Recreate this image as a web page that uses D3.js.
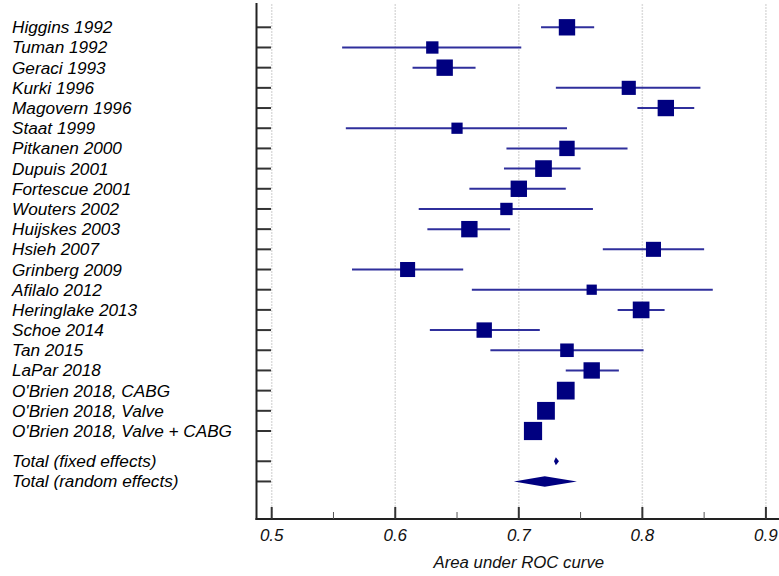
<!DOCTYPE html>
<html><head><meta charset="utf-8">
<script src="https://cdn.jsdelivr.net/npm/d3@7/dist/d3.min.js"></script>
<style>body{margin:0;background:#fff}svg{display:block}</style>
</head><body><svg id="c" width="779" height="576"></svg>
<script>
const studies = ["Higgins 1992","Tuman 1992","Geraci 1993","Kurki 1996","Magovern 1996","Staat 1999","Pitkanen 2000","Dupuis 2001","Fortescue 2001","Wouters 2002","Huijskes 2003","Hsieh 2007","Grinberg 2009","Afilalo 2012","Heringlake 2013","Schoe 2014","Tan 2015","LaPar 2018","O'Brien 2018, CABG","O'Brien 2018, Valve","O'Brien 2018, Valve + CABG"];
const auc   = [0.739,0.630,0.640,0.789,0.819,0.650,0.739,0.720,0.700,0.690,0.660,0.809,0.610,0.759,0.799,0.672,0.739,0.759,0.738,0.722,0.7115];
const lower = [0.718,0.557,0.614,0.730,0.796,0.560,0.690,0.688,0.660,0.619,0.626,0.768,0.565,0.662,0.780,0.628,0.677,0.738,0.733,0.717,0.706];
const upper = [0.761,0.702,0.665,0.847,0.842,0.739,0.788,0.750,0.738,0.760,0.693,0.850,0.655,0.857,0.818,0.717,0.801,0.781,0.743,0.727,0.717];
const weight= [5.1,2.9,5.1,3.8,5.1,2.4,4.5,5.3,5.1,2.9,5.1,4.3,4.3,2.0,5.3,4.5,3.5,5.1,6.0,6.0,6.3];
const totals = ["Total (fixed effects)","Total (random effects)"];
const totalEst = [0.730,0.721];
const totalLo  = [0.7285,0.696];
const totalHi  = [0.7325,0.747];
const xTicks = [0.5,0.6,0.7,0.8,0.9];
const xMinor = [0.55,0.65,0.75,0.85];

(function(){
const svg = d3.select("#c");
const navy = "#000080", ciCol = "#2f2f9c";
const x = d3.scaleLinear().domain([0.5,0.9]).range([271.7,765.9]);
const y = d3.scaleLinear().domain([0,20]).range([27.3,431]);
const sz = d3.scaleSqrt().domain([0,6.3]).range([0,18.2]);
const axX = 256.5, yTop = 3, yBot = 519;
const font = "'Liberation Sans', Arial, sans-serif";

svg.append("g").selectAll("line").data(xTicks).join("line")
  .attr("x1",d=>x(d)).attr("x2",d=>x(d)).attr("y1",yTop+1).attr("y2",yBot)
  .attr("stroke","#dcdcdc").attr("stroke-width",1.5).attr("stroke-dasharray","2,1");

const rowPos = studies.map((d,i)=>i).concat([21.5,22.5]);
const labels = studies.concat(totals);

svg.append("g").selectAll("text").data(labels).join("text")
  .attr("x",12).attr("y",(d,i)=>y(rowPos[i])+6)
  .attr("font-family",font).attr("font-style","italic").attr("font-size",17.2)
  .attr("fill","#000").text(d=>d);

svg.append("g").selectAll("line").data(rowPos).join("line")
  .attr("x1",axX).attr("x2",axX+14.5).attr("y1",d=>y(d)).attr("y2",d=>y(d))
  .attr("stroke","#333").attr("stroke-width",2);

svg.append("g").selectAll("line").data(studies).join("line")
  .attr("x1",(d,i)=>x(lower[i])).attr("x2",(d,i)=>x(upper[i]))
  .attr("y1",(d,i)=>y(i)).attr("y2",(d,i)=>y(i))
  .attr("stroke",ciCol).attr("stroke-width",2);

svg.append("g").selectAll("rect").data(studies).join("rect")
  .attr("x",(d,i)=>x(auc[i])-sz(weight[i])/2).attr("y",(d,i)=>y(i)-sz(weight[i])/2)
  .attr("width",(d,i)=>sz(weight[i])).attr("height",(d,i)=>sz(weight[i]))
  .attr("fill",navy);

const dh = [4,5.3];
svg.append("g").selectAll("path").data(totals).join("path")
  .attr("d",(d,i)=>{const yy=y(rowPos[21+i]);
    return `M${x(totalLo[i])},${yy}L${x(totalEst[i])},${yy-dh[i]}L${x(totalHi[i])},${yy}L${x(totalEst[i])},${yy+dh[i]}Z`;})
  .attr("fill",navy);

svg.append("line").attr("x1",axX).attr("x2",axX).attr("y1",yTop).attr("y2",yBot+1)
  .attr("stroke","#222").attr("stroke-width",2);
svg.append("line").attr("x1",axX-1).attr("x2",779).attr("y1",yBot).attr("y2",yBot)
  .attr("stroke","#222").attr("stroke-width",2);

svg.append("g").selectAll("line").data(xTicks).join("line")
  .attr("x1",d=>x(d)).attr("x2",d=>x(d)).attr("y1",yBot-12).attr("y2",yBot)
  .attr("stroke","#333").attr("stroke-width",2);
svg.append("g").selectAll("line").data(xMinor).join("line")
  .attr("x1",d=>x(d)).attr("x2",d=>x(d)).attr("y1",yBot-7).attr("y2",yBot)
  .attr("stroke","#555").attr("stroke-width",1);
svg.append("g").selectAll("text").data(xTicks).join("text")
  .attr("x",d=>x(d)).attr("y",yBot+22).attr("text-anchor","middle")
  .attr("font-family",font).attr("font-style","italic").attr("font-size",17)
  .attr("fill","#111").text(d=>d3.format(".1f")(d));

svg.append("text").attr("x",x(0.7)).attr("y",568).attr("text-anchor","middle")
  .attr("font-family",font).attr("font-style","italic").attr("font-size",16.8)
  .attr("fill","#111").text("Area under ROC curve");
})();
</script></body></html>
